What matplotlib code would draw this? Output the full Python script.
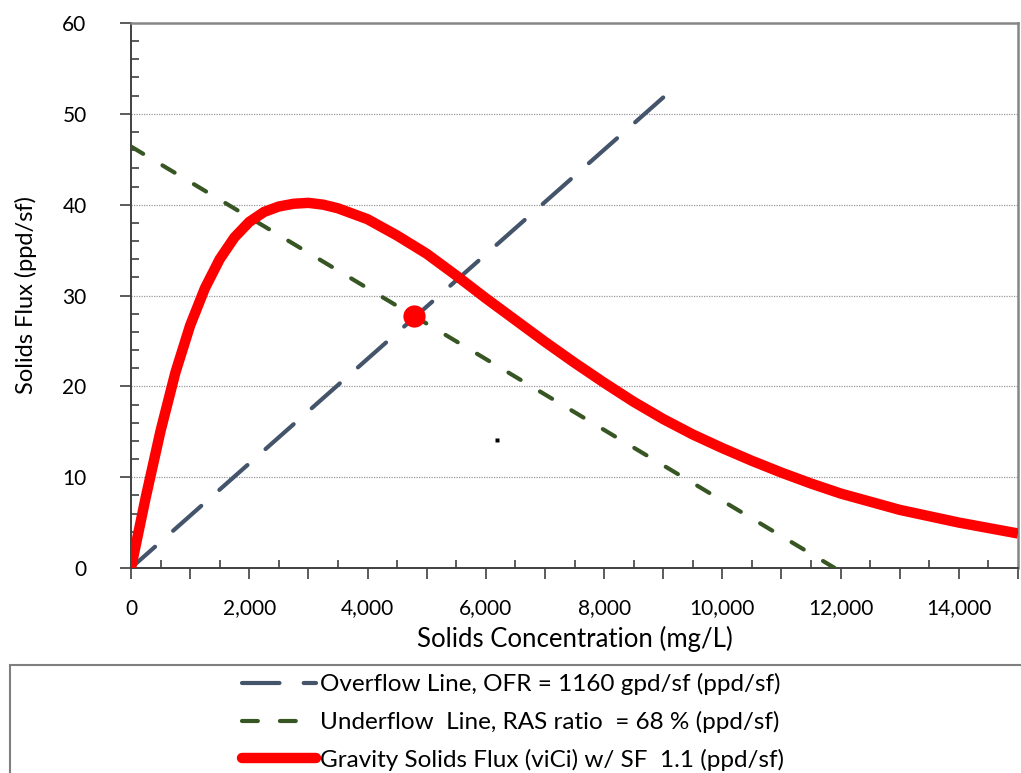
import matplotlib
matplotlib.use("Agg")
import matplotlib.pyplot as plt
from matplotlib.lines import Line2D
from matplotlib.patches import Rectangle
from matplotlib.ticker import MultipleLocator, FuncFormatter

plt.rcParams['font.family'] = ['Lato', 'DejaVu Sans']

# Gravity solids flux curve (mg/L vs ppd/sf)
flux_conc = [0, 250, 500, 750, 1000, 1250, 1500, 1750, 2000, 2250, 2500, 2750,
             3000, 3250, 3500, 3750, 4000, 4500, 5000, 5500, 6000, 6500, 7000,
             7500, 8000, 8500, 9000, 9500, 10000, 10500, 11000, 11500, 12000,
             12500, 13000, 13500, 14000, 14500, 15000]
flux_vals = [0, 7.8, 15.1, 21.5, 26.7, 30.8, 34.0, 36.4, 38.1, 39.2, 39.8, 40.1,
             40.2, 40.0, 39.6, 39.0, 38.4, 36.6, 34.6, 32.2, 29.7, 27.3, 24.9,
             22.6, 20.4, 18.3, 16.4, 14.7, 13.2, 11.8, 10.5, 9.3, 8.2,
             7.3, 6.4, 5.7, 5.0, 4.4, 3.8]

# Overflow and underflow operating lines (end points)
overflow_conc = [0, 9000]
overflow_vals = [0, 51.8]
underflow_conc = [0, 11900]
underflow_vals = [46.4, 0]

# State point
state_conc = [4790]
state_flux = [27.75]

# Stray point on the sheet
stray_conc = [6190]
stray_flux = [14.05]

labels = ["Overflow Line, OFR = 1160 gpd/sf (ppd/sf)",
          "Underflow  Line, RAS ratio  = 68 % (ppd/sf)",
          "Gravity Solids Flux (viCi) w/ SF  1.1 (ppd/sf)"]

OVER_C, UNDER_C, FLUX_C = '#44546A', '#375623', '#FF0000'

W, H = 1021, 773
fig = plt.figure(figsize=(W / 100, H / 100), dpi=100)
ax = fig.add_axes([131 / W, 1 - 568 / H, (1018 - 131) / W, (568 - 23) / H])

ax.set_xlim(0, 15000)
ax.set_ylim(0, 60)

# grid
for g in range(10, 60, 10):
    ax.axhline(g, color='#9a9a9a', lw=0.9, ls=(0, (1, 1)), zorder=0)

ax.plot(overflow_conc, overflow_vals, color=OVER_C, lw=3.0,
        ls=(1.3, (9.0, 5.8)), dash_capstyle='round', zorder=3)
ax.plot(underflow_conc, underflow_vals, color=UNDER_C, lw=3.0,
        ls=(0, (3.4, 5.4)), dash_capstyle='round', zorder=3)
ax.plot(flux_conc, flux_vals, color=FLUX_C, lw=7.5,
        solid_capstyle='butt', solid_joinstyle='round', zorder=4)
ax.plot(state_conc, state_flux, 'o', color=FLUX_C, ms=16, mec='none', zorder=5)
ax.plot(stray_conc, stray_flux, 's', color='black', ms=2.3, mec='none', zorder=5)

# spines
for s in ('left', 'bottom'):
    ax.spines[s].set_color('#404040')
    ax.spines[s].set_linewidth(1.4)
for s in ('top', 'right'):
    ax.spines[s].set_color('#868686')
    ax.spines[s].set_linewidth(1.8)

# ticks
ax.xaxis.set_major_locator(MultipleLocator(1000))
ax.xaxis.set_minor_locator(MultipleLocator(500))
ax.xaxis.set_major_formatter(FuncFormatter(
    lambda v, p: f"{int(v):,}" if int(v) % 2000 == 0 else ""))
ax.yaxis.set_major_locator(MultipleLocator(10))
ax.yaxis.set_minor_locator(MultipleLocator(2))
ax.tick_params(axis='both', which='major', direction='out', length=8,
               width=1.2, color='#404040', labelsize=15, labelcolor='black')
ax.tick_params(axis='both', which='minor', direction='in', length=6,
               width=1.2, color='#404040')
ax.tick_params(axis='x', which='major', pad=14)
ax.tick_params(axis='y', which='major', pad=24)

ax.set_xlabel("Solids Concentration (mg/L)", fontsize=18.5, labelpad=5)
ax.set_ylabel("Solids Flux (ppd/sf)", fontsize=17, labelpad=18)

# legend box, running off the lower and right edges
fig.patches.append(Rectangle((10 / W, -0.1), 1.1, 0.1 + (773 - 665) / H,
                             transform=fig.transFigure, fill=False,
                             edgecolor='#7f7f7f', lw=1.5, clip_on=False))
handles = [
    Line2D([], [], color=OVER_C, lw=3.0, ls=(0, (9.0, 5.8)),
           dash_capstyle='round'),
    Line2D([], [], color=UNDER_C, lw=3.0, ls=(0, (3.8, 5.3)),
           dash_capstyle='round'),
    Line2D([], [], color=FLUX_C, lw=7.5, solid_capstyle='round'),
]
fig.legend(handles, labels, loc='center',
           bbox_to_anchor=(513 / W, 1 - 722 / H), frameon=False,
           fontsize=17.5, handlelength=3.05, handletextpad=0.2,
           labelspacing=0.64, borderpad=0.2)

fig.savefig("out.png", dpi=100)
